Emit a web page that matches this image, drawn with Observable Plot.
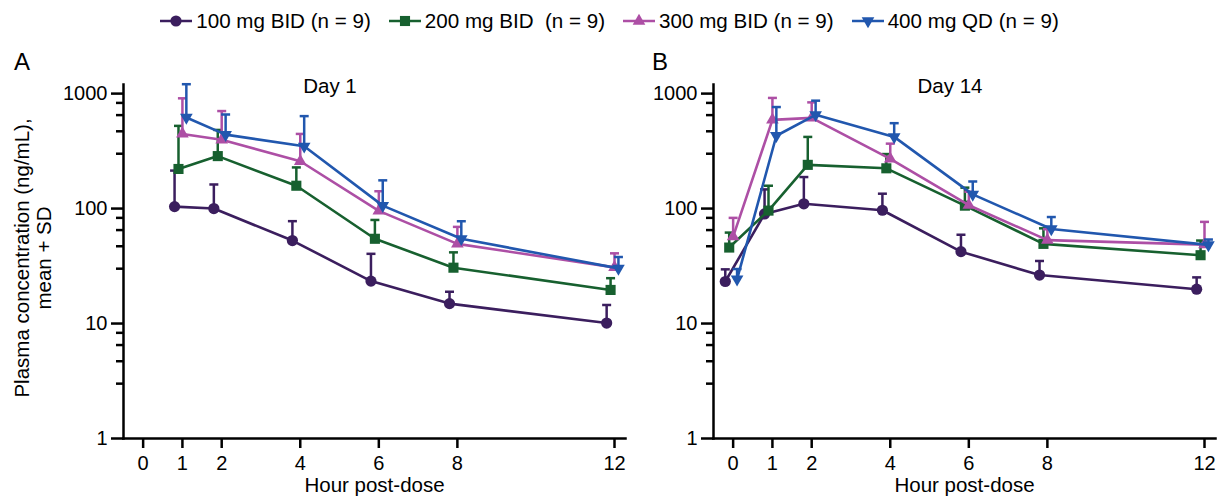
<!DOCTYPE html>
<html><head><meta charset="utf-8">
<script src="https://cdn.jsdelivr.net/npm/d3@7"></script>
<script src="https://cdn.jsdelivr.net/npm/@observablehq/plot@0.6"></script>
<style>
body{margin:0;background:#fff;}
#root{position:relative;width:1219px;height:498px;font-family:"Liberation Sans",Arial,sans-serif;color:#000;overflow:hidden;background:#fff}
.abs{position:absolute;white-space:pre;line-height:1}
#legend{position:absolute;top:11px;left:0;width:1219px;display:flex;justify-content:center;align-items:center;font-size:20.6px;line-height:1}
.item{display:flex;align-items:center;margin:0 9px;white-space:pre}
.item svg{margin-right:4px}
.plot{position:absolute;top:50px}
</style></head><body><div id="root"></div>
<script>
// ---- data ----
const seriesNames = ["100 mg BID (n = 9)", "200 mg BID  (n = 9)", "300 mg BID (n = 9)", "400 mg QD (n = 9)"];
const seriesColors = ["#3b1e5e", "#17602f", "#ad4fa5", "#2157ae"];
const seriesSymbols = ["circle", "square", "triangle", "triangleDown"];
const seriesOffsets = [-0.2, -0.1, 0, 0.1];
const panelLetters = ["A", "B"];
const panelTitles = ["Day 1", "Day 14"];

const day1Hours = [1, 2, 4, 6, 8, 12];
const day1Mean100 = [104, 100, 52.7, 23.4, 14.9, 10.1];
const day1Sd100   = [110, 62, 25, 17, 4, 4.4];
const day1Mean200 = [221, 286, 158, 54.6, 30.6, 19.6];
const day1Sd200   = [303, 197, 70, 25, 11, 5.2];
const day1Mean300 = [446, 397, 258, 95.5, 49.3, 30.8];
const day1Sd300   = [464, 308, 188, 46, 20, 10];
const day1Mean400 = [620, 440, 348, 106, 54.6, 30.2];
const day1Sd400   = [587, 218, 289, 70, 23, 7.7];

const day14Hours = [0, 1, 2, 4, 6, 8, 12];
const day14Mean100 = [23.2, 89.8, 110, 96.7, 42.2, 26.4, 19.9];
const day14Sd100   = [6.4, 57, 78, 38, 17, 8.6, 5.3];
const day14Mean200 = [45.8, 96, 240, 224, 106, 49.3, 39.3];
const day14Sd200   = [16, 62, 180, 74, 46, 18, 13.4];
const day14Mean300 = [57, 591, 615, 271, 107, 53.1, 48.6];
const day14Sd300   = [26, 326, 224, 96, 33, 13, 28];
const day14Mean400 = [24.3, 430, 654, 420, 133, 66.4, 48.3];
const day14Sd400   = [5.5, 334, 214, 133, 39, 18, 5.5];

const xTicks = [0, 1, 2, 4, 6, 8, 12];
const yTicks = [1, 10, 100, 1000];
const yMinorSteps = [3, 4.7, 6.5, 8.3];
const xLabel = "Hour post-dose";
const yLabelLines = ["Plasma concentration (ng/mL),", "mean + SD"];

// ---- helpers ----
const S3 = Math.sqrt(3);
const triangleDown = {draw(ctx, size) {
  const y = -Math.sqrt(size / (S3 * 3));
  ctx.moveTo(0, -y * 2); ctx.lineTo(-S3 * y, y); ctx.lineTo(S3 * y, y); ctx.closePath();
}};
const capSymbol = {draw(ctx) { ctx.moveTo(-4.5, 0); ctx.lineTo(4.5, 0); }};
const symbolObjs = {circle: d3.symbolCircle, square: d3.symbolSquare, triangle: d3.symbolTriangle, triangleDown};
const seriesR = [5.6, 5.7, 4.7, 4.7];
const FONT = '"Liberation Sans", Arial, sans-serif';

const minorTicks = [];
for (const d of [1, 10, 100]) for (const s of yMinorSteps) minorTicks.push(d * s);

function buildPanel(hours, means, sds, width, marginLeft, marginRight) {
  const marks = [
    Plot.axisY({ticks: minorTicks, tickSize: 7, tickFormat: () => "", strokeWidth: 2.5}),
    Plot.axisY({ticks: yTicks, tickSize: 12, tickPadding: 4, tickFormat: d => String(d), strokeWidth: 2.5, fontSize: 20}),
    Plot.axisX({ticks: xTicks, tickSize: 10, tickPadding: 7, strokeWidth: 2.5, fontSize: 20}),
    Plot.frame({anchor: "left", strokeWidth: 2.5}),
    Plot.frame({anchor: "bottom", strokeWidth: 2.5}),
    Plot.text([xLabel], {frameAnchor: "bottom", dy: 53, fontSize: 20.5})
  ];
  seriesNames.forEach((name, i) => {
    const rows = hours.map((h, j) => ({hour: h + seriesOffsets[i], mean: means[i][j], upper: means[i][j] + sds[i][j]}));
    const c = seriesColors[i];
    marks.push(Plot.ruleX(rows, {x: "hour", y1: "mean", y2: "upper", stroke: c, strokeWidth: 2.5}));
    marks.push(Plot.dot(rows, {x: "hour", y: "upper", symbol: capSymbol, r: 3, stroke: c, fill: "none", strokeWidth: 2.5}));
    marks.push(Plot.line(rows, {x: "hour", y: "mean", stroke: c, strokeWidth: 2.6}));
    marks.push(Plot.dot(rows, {x: "hour", y: "mean", symbol: symbolObjs[seriesSymbols[i]], r: seriesR[i], fill: c, stroke: "none"}));
  });
  return Plot.plot({
    width, height: 448, marginLeft, marginRight, marginTop: 34, marginBottom: 60,
    x: {domain: [-0.5, 12.28], label: null},
    y: {type: "log", domain: [1, 1200], label: null},
    style: {fontFamily: FONT, fontSize: "20px", color: "#000", background: "transparent", overflow: "visible"},
    marks
  });
}

const root = document.getElementById("root");

// legend
const legend = document.createElement("div");
legend.id = "legend";
seriesNames.forEach((name, i) => {
  const item = document.createElement("div");
  item.className = "item";
  const svg = d3.create("svg").attr("width", 32).attr("height", 16);
  svg.append("line").attr("x1", 0).attr("x2", 32).attr("y1", 8).attr("y2", 8).attr("stroke", seriesColors[i]).attr("stroke-width", 2.5);
  const r = seriesR[i];
  svg.append("path").attr("transform", "translate(16,8)").attr("fill", seriesColors[i])
    .attr("d", d3.symbol(symbolObjs[seriesSymbols[i]], Math.PI * r * r)());
  item.appendChild(svg.node());
  const span = document.createElement("span");
  span.textContent = name;
  item.appendChild(span);
  legend.appendChild(item);
});
root.appendChild(legend);

// panels
const pA = buildPanel(day1Hours,
  [day1Mean100, day1Mean200, day1Mean300, day1Mean400],
  [day1Sd100, day1Sd200, day1Sd300, day1Sd400], 630, 123, 5);
pA.classList.add("plot"); pA.style.left = "0px";
root.appendChild(pA);

const pB = buildPanel(day14Hours,
  [day14Mean100, day14Mean200, day14Mean300, day14Mean400],
  [day14Sd100, day14Sd200, day14Sd300, day14Sd400], 589, 83, 4);
pB.classList.add("plot"); pB.style.left = "630px";
root.appendChild(pB);

function addText(txt, left, top, size, center) {
  const d = document.createElement("div");
  d.className = "abs";
  d.textContent = txt;
  d.style.left = left + "px"; d.style.top = top + "px"; d.style.fontSize = size + "px";
  if (center) d.style.transform = "translate(-50%, -50%)";
  root.appendChild(d);
  return d;
}
addText(panelLetters[0], 22, 62, 24, true);
addText(panelLetters[1], 660, 62, 24, true);
addText(panelTitles[0], 330, 86, 20.5, true);
addText(panelTitles[1], 950, 86, 20.5, true);

const yl = document.createElement("div");
yl.className = "abs";
yl.style.left = "33px"; yl.style.top = "258px"; yl.style.fontSize = "20.5px";
yl.style.lineHeight = "22px"; yl.style.textAlign = "center";
yl.style.transform = "translate(-50%, -50%) rotate(-90deg)";
yl.textContent = yLabelLines.join("\n");
root.appendChild(yl);
</script></body></html>
